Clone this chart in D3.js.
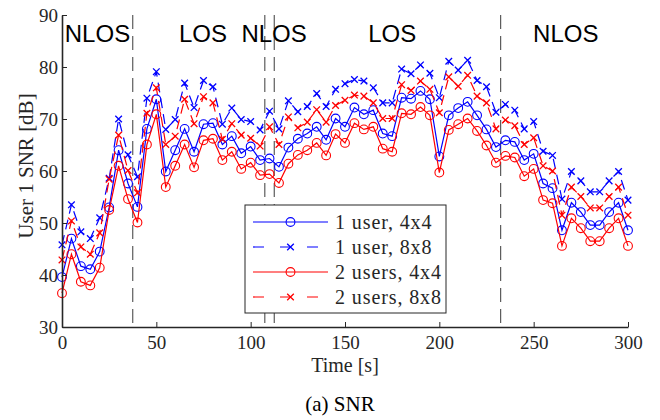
<!DOCTYPE html>
<html>
<head>
<meta charset="utf-8">
<script src="https://cdn.jsdelivr.net/npm/d3@7"></script>
<style>
  body { margin: 0; background: #fff; }
  svg { display: block; }
</style>
</head>
<body>
<svg></svg>
<script>
// x: time in seconds, y: SNR of user 1 in dB

const times = [0, 5, 10, 15, 20, 25, 30, 35, 40, 45, 50, 55, 60, 65, 70, 75, 80, 85, 90, 95,
  100, 105, 110, 115, 120, 125, 130, 135, 140, 145, 150, 155, 160, 165, 170, 175, 180, 185, 190, 195,
  200, 205, 210, 215, 220, 225, 230, 235, 240, 245, 250, 255, 260, 265, 270, 275, 280, 285, 290, 295, 300];

const oneUser4x4 = [39.6, 47.0, 41.7, 41.1, 44.5, 53.0, 64.0, 57.6, 53.1, 68.1, 73.8, 59.9, 64.0, 68.1, 63.7, 69.0, 69.2, 65.1, 66.7, 63.4,
  64.7, 62.1, 62.4, 60.8, 64.5, 66.2, 67.2, 68.5, 66.0, 70.1, 68.5, 72.2, 70.9, 71.7, 67.2, 66.7, 74.1, 73.9, 75.4, 73.8,
  62.8, 70.7, 72.1, 73.3, 70.7, 68.0, 64.6, 65.9, 65.6, 62.1, 63.3, 57.6, 56.7, 48.6, 53.9, 52.1, 49.6, 49.6, 52.1, 53.9, 48.6];

const oneUser8x8 = [45.8, 53.5, 48.3, 47.0, 51.0, 58.6, 70.0, 63.1, 58.9, 74.0, 79.1, 68.0, 69.9, 76.9, 72.2, 77.4, 76.2, 69.0, 72.1, 69.9,
  69.5, 67.9, 71.5, 68.1, 73.5, 71.4, 72.4, 74.9, 72.4, 75.7, 76.8, 77.6, 77.3, 76.0, 73.1, 73.1, 79.6, 78.7, 80.4, 78.8,
  74.1, 81.1, 79.4, 81.3, 77.4, 76.2, 71.3, 72.8, 71.7, 68.1, 69.5, 63.8, 63.0, 54.6, 59.9, 58.1, 56.0, 56.0, 58.1, 59.9, 54.4];

const twoUsers4x4 = [36.5, 44.0, 38.7, 38.0, 41.4, 52.5, 61.0, 54.6, 50.1, 65.1, 70.9, 56.9, 61.0, 65.1, 60.7, 65.9, 66.2, 62.1, 63.7, 60.4,
  61.6, 59.2, 59.4, 57.7, 61.4, 63.1, 64.0, 65.4, 63.0, 67.1, 65.4, 69.2, 68.0, 68.5, 64.3, 63.7, 71.1, 70.9, 72.3, 70.7,
  59.7, 67.9, 69.0, 70.1, 67.7, 64.9, 61.6, 62.9, 62.6, 59.0, 60.4, 54.4, 53.8, 45.6, 50.9, 49.0, 46.5, 46.5, 49.0, 50.9, 45.6];

const twoUsers8x8 = [42.9, 50.4, 45.4, 44.0, 48.1, 58.4, 66.9, 60.1, 55.8, 71.1, 76.0, 65.1, 66.7, 73.8, 69.1, 74.3, 73.1, 66.1, 69.1, 66.9,
  66.3, 64.8, 68.5, 65.1, 70.4, 68.3, 69.4, 71.8, 69.4, 72.6, 73.6, 74.6, 74.4, 73.1, 70.1, 70.1, 76.6, 75.5, 77.3, 75.7,
  71.2, 78.1, 76.3, 78.4, 74.4, 73.1, 68.1, 69.8, 68.7, 65.1, 66.4, 61.0, 60.0, 51.5, 56.9, 55.1, 52.9, 52.9, 55.1, 56.9, 51.5];

const seriesNames = ["1 user, 4x4", "1 user, 8x8", "2 users, 4x4", "2 users, 8x8"];

// LOS / NLOS boundaries and region labels
const boundaries = [37.5, 107.5, 112.5, 232.5];
const regionNames = ["NLOS", "LOS", "NLOS", "LOS", "NLOS"];
const regionCenters = [18.8, 74.7, 112.4, 175, 267];

const xTicks = [0, 50, 100, 150, 200, 250, 300];
const yTicks = [30, 40, 50, 60, 70, 80, 90];

const width = 660;
const height = 420;
const plotLeft = 62, plotRight = 628, plotTop = 15, plotBottom = 327;
const serif = "'Liberation Serif', 'Times New Roman', serif";

const series = [
  { name: seriesNames[0], values: oneUser4x4, color: "#0000ff", dashed: false, marker: "circle" },
  { name: seriesNames[1], values: oneUser8x8, color: "#0000ff", dashed: true, marker: "cross" },
  { name: seriesNames[2], values: twoUsers4x4, color: "#ff0000", dashed: false, marker: "circle" },
  { name: seriesNames[3], values: twoUsers8x8, color: "#ff0000", dashed: true, marker: "cross" }
];

// Scales
const xScale = d3.scaleLinear().domain([0, 300]).range([plotLeft, plotRight]);
const yScale = d3.scaleLinear().domain([30, 90]).range([plotBottom, plotTop]);

const svg = d3.select("svg")
    .attr("width", width)
    .attr("height", height);

// boundary lines
svg.append("g")
  .selectAll("line")
  .data(boundaries)
  .enter()
  .append("line")
    .attr("x1", d => xScale(d))
    .attr("x2", d => xScale(d))
    .attr("y1", yScale(90))
    .attr("y2", yScale(30))
    .attr("stroke", "#4d4d4d")
    .attr("stroke-width", 1.1)
    .attr("stroke-dasharray", "14,7");

// region labels
svg.append("g")
  .selectAll("text")
  .data(regionNames)
  .enter()
  .append("text")
    .attr("x", (d, i) => xScale(regionCenters[i]))
    .attr("y", 42)
    .attr("text-anchor", "middle")
    .attr("font-family", "Liberation Sans, Arial, sans-serif")
    .attr("font-size", 24)
    .text(d => d);

// series
const line = d3.line()
    .x((d, i) => xScale(times[i]))
    .y(d => yScale(d));

function drawMarker(g, type, color) {
  if (type === "circle") {
    g.append("circle")
      .attr("r", 4.4)
      .attr("fill", "none")
      .attr("stroke", color)
      .attr("stroke-width", 1.1);
  } else {
    g.append("path")
      .attr("d", "M-3.3,-3.3L3.3,3.3M-3.3,3.3L3.3,-3.3")
      .attr("fill", "none")
      .attr("stroke", color)
      .attr("stroke-width", 1.3);
  }
}

series.forEach(s => {
  const g = svg.append("g");
  g.append("path")
    .attr("d", line(s.values))
    .attr("fill", "none")
    .attr("stroke", s.color)
    .attr("stroke-width", 1.2)
    .attr("stroke-dasharray", s.dashed ? "10,6" : null);
  g.selectAll("g.m")
    .data(s.values)
    .enter()
    .append("g")
      .attr("class", "m")
      .attr("transform", (d, i) => `translate(${xScale(times[i])},${yScale(d)})`)
      .each(function() { drawMarker(d3.select(this), s.marker, s.color); });
});

// Axes
const xAxis = d3.axisBottom(xScale)
    .tickValues(xTicks)
    .tickSize(-5)
    .tickSizeOuter(0)
    .tickPadding(8);

const yAxis = d3.axisLeft(yScale)
    .tickValues(yTicks)
    .tickSize(-5)
    .tickSizeOuter(0)
    .tickPadding(4);

const gx = svg.append("g")
    .attr("transform", `translate(0, ${plotBottom})`)
    .call(xAxis);

const gy = svg.append("g")
    .attr("transform", `translate(${plotLeft}, 0)`)
    .call(yAxis);

[gx, gy].forEach(g => {
  g.attr("font-family", null).attr("font-size", null);
  g.select(".domain").attr("stroke", "#262626").attr("stroke-width", 1.6);
  g.selectAll(".tick line").attr("stroke", "#262626").attr("stroke-width", 1);
  g.selectAll(".tick text")
    .style("font-family", serif)
    .style("font-size", "19px")
    .attr("fill", "#262626");
});
gx.selectAll(".tick text").attr("dy", "0.72em");
gy.selectAll(".tick text").attr("dy", "0.34em");

// axis labels
svg.append("text")
    .attr("x", 345)
    .attr("y", 372)
    .attr("text-anchor", "middle")
    .style("font-family", serif)
    .style("font-size", "20px")
    .attr("fill", "#262626")
    .text("Time [s]");

svg.append("text")
    .attr("transform", "translate(33, 166) rotate(-90)")
    .attr("text-anchor", "middle")
    .style("font-family", serif)
    .style("font-size", "21px")
    .attr("fill", "#262626")
    .text("User 1 SNR [dB]");

svg.append("text")
    .attr("x", 340)
    .attr("y", 411)
    .attr("text-anchor", "middle")
    .style("font-family", serif)
    .style("font-size", "21px")
    .attr("fill", "#000")
    .text("(a) SNR");

// Legend
const legend = svg.append("g").attr("transform", "translate(245, 205)");

legend.append("rect")
    .attr("width", 201)
    .attr("height", 108)
    .attr("fill", "#fff")
    .attr("stroke", "#262626")
    .attr("stroke-width", 1);

const rows = legend.selectAll("g.row")
  .data(series)
  .enter()
  .append("g")
    .attr("class", "row")
    .attr("transform", (d, i) => `translate(0, ${17 + i * 25})`);

rows.append("line")
    .attr("x1", 8)
    .attr("x2", 83)
    .attr("stroke", d => d.color)
    .attr("stroke-width", 1.2)
    .attr("stroke-dasharray", d => d.dashed ? "11,16" : null);

rows.append("g")
    .attr("transform", "translate(45.5, 0)")
    .each(function(d) { drawMarker(d3.select(this), d.marker, d.color); });

rows.append("text")
    .attr("x", 90)
    .attr("y", 6.5)
    .style("font-family", serif)
    .style("font-size", "20px")
    .attr("letter-spacing", 0.9)
    .attr("fill", "#262626")
    .text(d => d.name);
</script>
</body>
</html>
